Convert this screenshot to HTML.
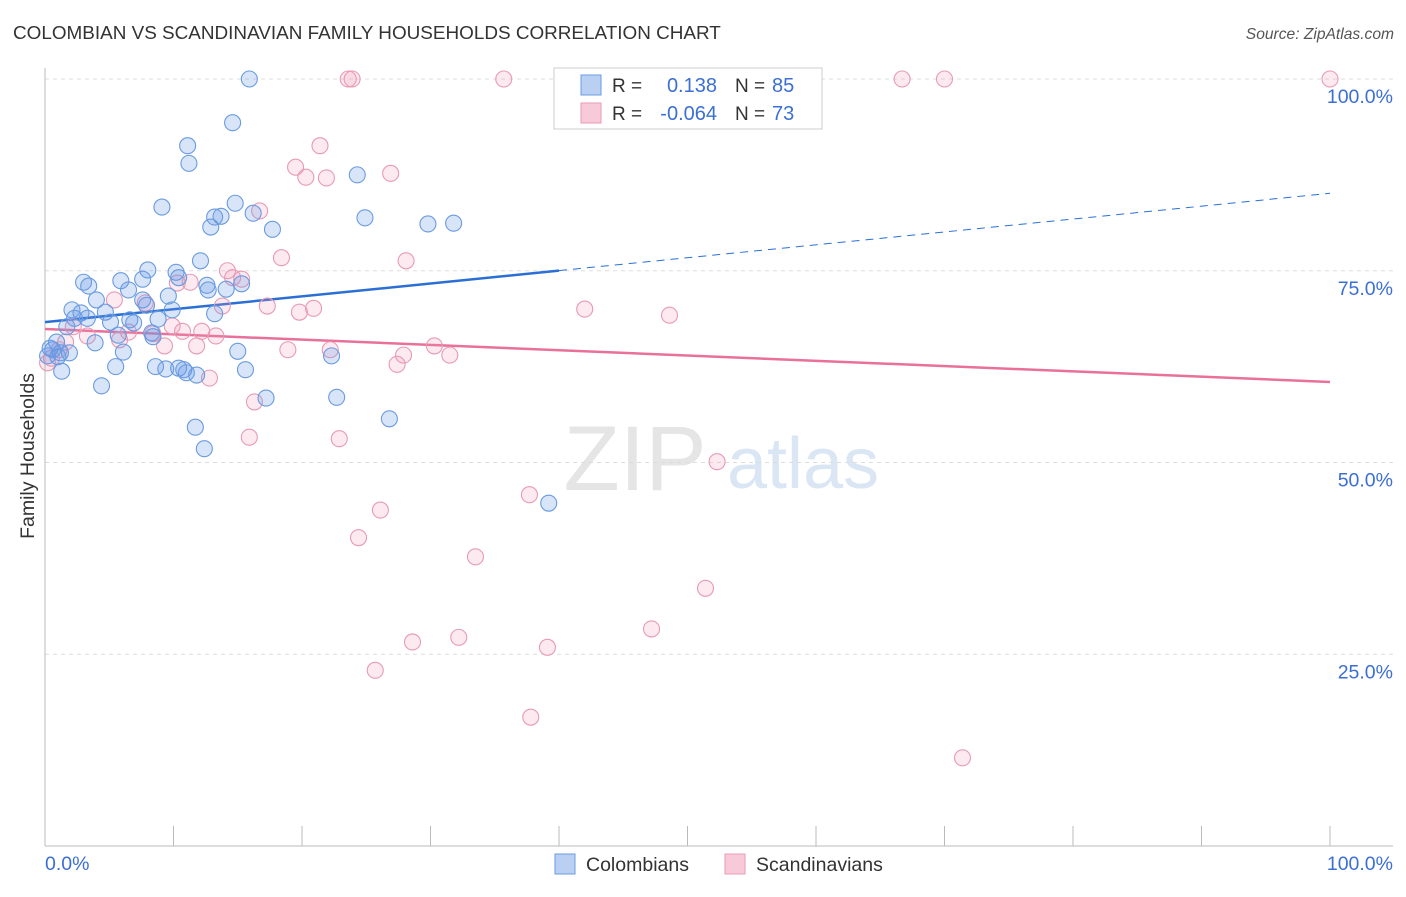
<!DOCTYPE html>
<html><head><meta charset="utf-8">
<style>
body{margin:0;background:#fff;font-family:"Liberation Sans",sans-serif}
svg text{font-family:"Liberation Sans",sans-serif}
</style></head>
<body>
<svg id="chart" width="1406" height="892" viewBox="0 0 1406 892" xmlns="http://www.w3.org/2000/svg">
<text x="13" y="39" font-size="18.9" fill="#333">COLOMBIAN VS SCANDINAVIAN FAMILY HOUSEHOLDS CORRELATION CHART</text>
<text x="1394" y="39" font-size="15.6" fill="#555" text-anchor="end" font-style="italic">Source: ZipAtlas.com</text>
<g>
<text x="635" y="490" font-size="92" fill="#e5e5e5" text-anchor="middle" font-family="Liberation Serif">ZIP</text>
<text x="803" y="488" font-size="72" fill="#dbe6f5" text-anchor="middle">atlas</text>
</g>
<g id="grid"></g>
<g id="axes"></g>
<g id="trend"></g>
<g id="points"></g>
<text transform="translate(34,456) rotate(-90)" font-size="19.5" fill="#333" text-anchor="middle">Family Households</text>
<g>
<rect x="554" y="68" width="268" height="61" fill="#fff" stroke="#ccc"/>
<rect x="581" y="75" width="20" height="20" fill="#b9d0f3" stroke="#6a9be0"/>
<rect x="581" y="103" width="20" height="20" fill="#f8c9d8" stroke="#e89ab5"/>
<text x="612" y="92" font-size="19" fill="#333">R =</text>
<text x="717" y="92" font-size="20" fill="#3b6fd4" text-anchor="end">0.138</text>
<text x="735" y="92" font-size="19" fill="#333">N =</text>
<text x="772" y="92" font-size="20" fill="#3b6fd4">85</text>
<text x="612" y="120" font-size="19" fill="#333">R =</text>
<text x="717" y="120" font-size="20" fill="#3b6fd4" text-anchor="end">-0.064</text>
<text x="735" y="120" font-size="19" fill="#333">N =</text>
<text x="772" y="120" font-size="20" fill="#3b6fd4">73</text>
</g>
<g>
<rect x="555" y="854" width="20" height="20" fill="#b9d0f3" stroke="#6a9be0"/>
<text x="586" y="871" font-size="19.5" fill="#333">Colombians</text>
<rect x="725" y="854" width="20" height="20" fill="#f8c9d8" stroke="#e89ab5"/>
<text x="756" y="871" font-size="19.5" fill="#333">Scandinavians</text>
</g>
</svg>
<script>
const blueX=[15.9,14.6,11.1,11.2,9.1,14.8,13.2,13.7,12.9,16.2,17.7,24.3,24.9,29.8,31.8,8.0,12.1,10.2,5.9,3.0,7.6,3.4,6.5,10.4,12.6,12.7,15.3,14.1,9.6,4.0,2.1,2.8,3.3,4.7,7.6,7.9,9.9,13.2,8.8,6.6,6.9,5.1,1.7,2.3,5.7,8.3,8.4,3.9,0.9,0.6,0.2,1.2,1.9,6.1,15.0,22.3,5.5,8.6,9.4,10.4,10.8,11.0,11.8,15.6,4.4,1.3,17.2,22.7,11.7,26.8,12.4,39.2,0.4,1.0];
const blueY=[100,94.3,91.3,89.0,83.3,83.8,82.0,82.1,80.7,82.5,80.4,87.5,81.9,81.1,81.2,75.1,76.3,74.8,73.7,73.5,73.9,73.0,72.5,74.1,73.1,72.5,73.3,72.6,71.7,71.2,69.9,69.5,68.8,69.6,71.2,70.5,69.9,69.4,68.7,68.6,68.2,68.3,67.7,68.8,66.6,66.9,66.4,65.6,65.7,64.7,63.9,64.3,64.3,64.4,64.5,63.9,62.5,62.5,62.2,62.3,62.1,61.7,61.4,62.1,60.0,61.9,58.4,58.5,54.6,55.7,51.8,44.7,64.9,63.8];
const pinkX=[23.6,23.9,35.7,66.7,70.0,100,21.4,19.5,20.3,21.9,26.9,16.7,18.4,28.1,14.2,14.6,15.3,11.3,10.3,5.4,7.8,17.3,20.9,19.8,42.0,48.6,13.8,9.9,10.7,6.5,8.4,12.2,13.3,11.8,9.3,18.9,22.2,30.3,31.5,27.9,27.4,12.8,16.3,15.9,22.9,52.3,37.7,26.1,24.4,33.5,51.4,47.2,32.2,28.6,39.1,25.7,37.8,71.4,2.2,1.6,0.5,0.2,1.1,5.8,3.3];
const pinkY=[100,100,100,100,100,100,91.3,88.5,87.2,87.1,87.7,82.8,76.7,76.3,75.0,74.1,73.9,73.5,73.4,71.2,70.8,70.4,70.1,69.6,70.0,69.2,70.4,67.8,67.1,67.0,66.8,67.1,66.5,65.2,65.2,64.7,64.7,65.2,64.0,64.0,62.8,61.0,57.9,53.3,53.1,50.1,45.8,43.8,40.2,37.7,33.6,28.3,27.2,26.6,25.9,22.9,16.8,11.5,67.7,65.7,63.6,63.0,64.7,66.0,66.5];
const blueTrend=[68.3,85.1]; // y at x=0 and x=100
const pinkTrend=[67.4,60.5];
const yTicks=[25,50,75,100];
const yTickLabels=["25.0%","50.0%","75.0%","100.0%"];
const xTicks=[0,10,20,30,40,50,60,70,80,90,100];

const NS="http://www.w3.org/2000/svg";
const sx=v=>45+v*12.85;
const sy=v=>846-v*7.67;
function mk(tag,attrs,parent){const e=document.createElementNS(NS,tag);for(const k in attrs)e.setAttribute(k,attrs[k]);document.getElementById(parent).appendChild(e);return e;}

yTicks.forEach((t,i)=>{
  const g=mk('line',{x1:45,x2:1393,y1:sy(t),y2:sy(t),stroke:'#ddd','stroke-dasharray':'4,4'},'grid');
  
  
  const l=mk('text',{x:1393,y:sy(t)+24,'font-size':19.5,fill:'#3b6fd4','text-anchor':'end'},'grid');
  l.textContent=yTickLabels[i];
  
  
});
let a=mk('line',{x1:45,x2:45,y1:68,y2:846,stroke:'#bbb'},'axes');


a=mk('line',{x1:45,x2:1393,y1:846,y2:846,stroke:'#bbb'},'axes');


xTicks.forEach(t=>{
  const tk=mk('line',{x1:sx(t),x2:sx(t),y1:826,y2:846,stroke:'#bbb'},'axes');
  
  
});
let xl=mk('text',{x:45,y:870,'font-size':19.5,fill:'#3b6fd4'},'axes');xl.textContent='0.0%';


xl=mk('text',{x:1393,y:870,'font-size':19.5,fill:'#3b6fd4','text-anchor':'end'},'axes');xl.textContent='100.0%';



function addPts(xs,ys,fill,stroke,name){
  xs.forEach((x,i)=>{
    const c=mk('circle',{cx:sx(x),cy:sy(ys[i]),r:8,fill:fill,stroke:stroke,'stroke-width':1.1},'points');
    
    
  });
}
addPts(pinkX,pinkY,'rgba(240,150,180,0.2)','#e89ab5','scandinavian-point');
addPts(blueX,blueY,'rgba(100,150,230,0.25)','#6a9be0','colombian-point');

const bAt=x=>blueTrend[0]+(blueTrend[1]-blueTrend[0])*x/100;
let t=mk('line',{x1:sx(0),y1:sy(bAt(0)),x2:sx(40),y2:sy(bAt(40)),stroke:'#2b6fd6','stroke-width':2.5},'trend');


t=mk('line',{x1:sx(40),y1:sy(bAt(40)),x2:sx(100),y2:sy(bAt(100)),stroke:'#2b6fd6','stroke-width':1,'stroke-dasharray':'8,6'},'trend');


t=mk('line',{x1:sx(0),y1:sy(pinkTrend[0]),x2:sx(100),y2:sy(pinkTrend[1]),stroke:'#e8709a','stroke-width':2.5},'trend');


</script>
</body></html>
